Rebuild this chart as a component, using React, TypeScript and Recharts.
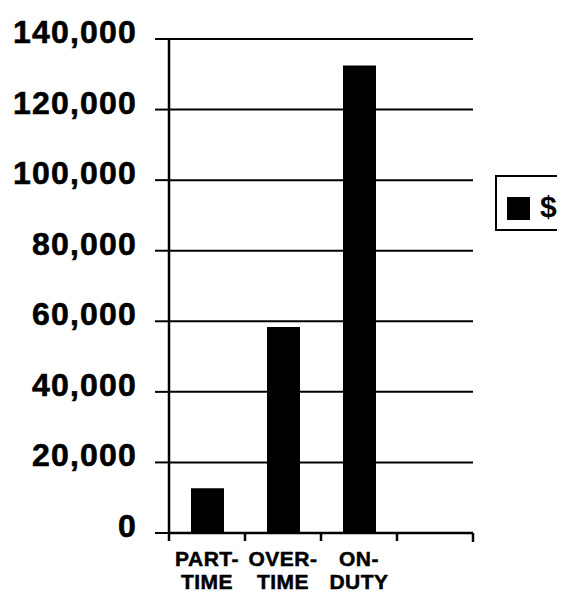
import { BarChart, Bar, XAxis, YAxis, CartesianGrid } from "recharts";

const categories = ["PART-TIME", "OVER-TIME", "ON-DUTY", ""];
const dollars = [12700, 58400, 132500, null];
const yTicks = [0, 20000, 40000, 60000, 80000, 100000, 120000, 140000];
const seriesName = "$";

const data = categories.map((c, i) => ({ category: c, value: dollars[i] }));

const FONT = "'Liberation Sans', Arial, Helvetica, sans-serif";
const fmt = new Intl.NumberFormat("en-US");

function YTick({ x, y, payload }: any) {
  return (
    <text
      x={x}
      y={y + 4}
      textAnchor="end"
      fontFamily={FONT}
      fontWeight="bold"
      fontSize={32}
      letterSpacing={1.2}
      fill="#000"
      stroke="#000"
      strokeWidth={0.6}
    >
      {fmt.format(payload.value)}
    </text>
  );
}

// category label plus the small tick marks sitting on the band edges
function XTick({ x, y, payload, index }: any) {
  const label: string = payload.value || "";
  const cut = label.indexOf("-");
  const lines = cut >= 0 ? [label.slice(0, cut + 1), label.slice(cut + 1)] : [label];
  const half = payload.offset || 0;
  const isLast = index === categories.length - 1;
  return (
    <g>
      {half > 0 && (
        <line x1={x - half} x2={x - half} y1={y} y2={y + 8} stroke="#000" strokeWidth={2.5} />
      )}
      {half > 0 && isLast && (
        <line x1={x + half} x2={x + half} y1={y} y2={y + 9} stroke="#000" strokeWidth={2.5} />
      )}
      <text
        textAnchor="middle"
        fontFamily={FONT}
        fontWeight="bold"
        fontSize={21}
        letterSpacing={0.5}
        fill="#000"
        stroke="#000"
        strokeWidth={0.5}
      >
        {lines.map((l, i) => (
          <tspan key={i} x={x} y={y + 33 + i * 23}>
            {l}
          </tspan>
        ))}
      </text>
    </g>
  );
}

export default function App() {
  return (
    <div style={{ position: "relative", width: 557, height: 584, overflow: "hidden", background: "#fff" }}>
      <BarChart
        width={557}
        height={584}
        data={data}
        margin={{ top: 31, right: 92, left: 0, bottom: 0 }}
        barSize={33}
      >
        <CartesianGrid horizontal vertical={false} stroke="#000" strokeWidth={2} strokeOpacity={1} />
        <XAxis
          dataKey="category"
          interval={0}
          tick={<XTick />}
          tickLine={false}
          tickSize={0}
          tickMargin={0}
          axisLine={{ stroke: "#000", strokeWidth: 2.5 }}
          height={59}
        />
        <YAxis
          domain={[0, 140000]}
          ticks={yTicks}
          interval={0}
          width={161}
          tick={<YTick />}
          tickSize={14}
          tickMargin={18}
          tickLine={{ stroke: "#000", strokeWidth: 2 }}
          axisLine={{ stroke: "#000", strokeWidth: 2.5 }}
        />
        <Bar dataKey="value" name={seriesName} fill="#000" isAnimationActive={false} />
      </BarChart>
      <div
        style={{
          position: "absolute",
          left: 487,
          top: 167,
          width: 100,
          height: 52,
          border: "2px solid #000",
          background: "#fff",
          fontFamily: FONT,
        }}
      >
        <div style={{ position: "absolute", left: 10, top: 20, width: 23, height: 23, background: "#000" }} />
        <div style={{ position: "absolute", left: 43, top: 12, fontSize: 30, fontWeight: "bold", lineHeight: "36px" }}>
          {seriesName}
        </div>
      </div>
    </div>
  );
}
